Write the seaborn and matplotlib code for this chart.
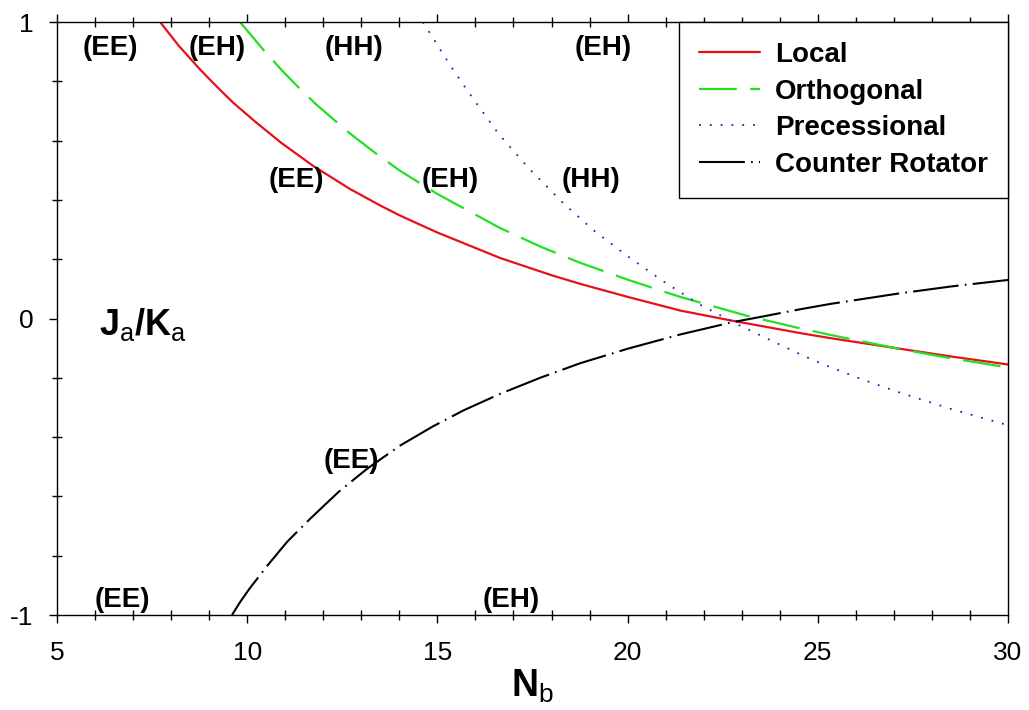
import pandas as pd
import matplotlib.pyplot as plt
import seaborn as sns
from matplotlib.ticker import MultipleLocator

# values
local_x = [7.71, 8.2, 8.76, 9.2, 9.63, 10.2, 10.9, 11.73, 12.7, 13.5, 14.02, 15.0, 16.65, 18.0, 18.75,
           20.0, 21.38, 22.69, 24.53, 25.32, 27.16, 28.5, 30.0]
local_y = [1.0, 0.92, 0.84, 0.782, 0.728, 0.665, 0.592, 0.515, 0.437, 0.381, 0.347, 0.29, 0.204, 0.146, 0.117,
           0.073, 0.027, -0.006, -0.049, -0.066, -0.102, -0.128, -0.155]

orth_x = [9.81, 10.4, 10.94, 11.4, 11.83, 12.7, 13.4, 14.02, 15.0, 16.65, 17.7, 18.75, 20.0, 21.38, 23.14,
          24.53, 25.32, 27.16, 28.5, 30.0]
orth_y = [1.0, 0.91, 0.833, 0.773, 0.72, 0.624, 0.555, 0.498, 0.42, 0.305, 0.243, 0.188, 0.131, 0.073, 0.009,
          -0.033, -0.055, -0.103, -0.134, -0.165]

prec_x = [14.62, 15.33, 15.78, 16.6, 17.4, 18.3, 19.1, 19.98, 21.0, 21.9, 22.95, 24.66, 25.19, 26.2,
          27.16, 28.5, 30.0]
prec_y = [1.0, 0.855, 0.77, 0.624, 0.507, 0.39, 0.298, 0.212, 0.12, 0.047, -0.024, -0.128, -0.157, -0.207,
          -0.25, -0.305, -0.36]

counter_x = [9.6, 9.82, 10.05, 10.52, 11.05, 11.65, 12.4, 13.15, 14.0, 14.88, 15.7, 16.65, 17.7, 18.75, 20.0,
             21.38, 22.77, 23.4, 24.53, 25.32, 27.16, 28.5, 30.0]
counter_y = [-1.0, -0.955, -0.913, -0.835, -0.753, -0.676, -0.585, -0.507, -0.43, -0.364, -0.309, -0.254, -0.2,
             -0.151, -0.102, -0.054, -0.012, 0.003, 0.031, 0.049, 0.085, 0.108, 0.13]

series_names = ['Local', 'Orthogonal', 'Precessional', 'Counter Rotator']

label_text = ['(EE)', '(EH)', '(HH)', '(EH)', '(EE)', '(EH)', '(HH)', '(EE)', '(EE)', '(EH)']
label_x = [6.39, 9.2, 12.81, 19.35, 11.28, 15.33, 19.04, 12.73, 6.73, 16.93]
label_y = [0.912, 0.912, 0.912, 0.912, 0.466, 0.466, 0.466, -0.48, -0.95, -0.95]

sns.set_style('ticks')
plt.rcParams['font.family'] = ['Liberation Sans', 'DejaVu Sans']
plt.rcParams['mathtext.fontset'] = 'custom'
plt.rcParams['mathtext.rm'] = 'Liberation Sans'
plt.rcParams['mathtext.bf'] = 'Liberation Sans:bold'
plt.rcParams['axes.unicode_minus'] = False
for k in ['text.color', 'axes.labelcolor', 'xtick.color', 'ytick.color']:
    plt.rcParams[k] = 'black'

fig = plt.figure(figsize=(10.29, 7.10), dpi=100)
ax = fig.add_axes([0.0554, 0.1338, 0.9242, 0.8352])

styles = [
    dict(color='#e8101a', linestyle='-', linewidth=1.6),
    dict(color='#22e022', linestyle=(0, (17, 6)), linewidth=1.6),
    dict(color='#2020b8', linestyle=(0, (1, 5)), linewidth=1.3),
    dict(color='black', linestyle=(0, (22, 3, 0.8, 3)), linewidth=1.5),
]
xs = [local_x, orth_x, prec_x, counter_x]
ys = [local_y, orth_y, prec_y, counter_y]

for name, x, y, st in zip(series_names, xs, ys, styles):
    d = pd.DataFrame({'Nb': x, 'J': y})
    sns.lineplot(data=d, x='Nb', y='J', sort=False, estimator=None, label=name, ax=ax, **st)

for t, x, y in zip(label_text, label_x, label_y):
    ax.text(x, y, t, fontsize=20, fontweight='bold', ha='center', va='center')

ax.text(7.26, -0.02, r'$\mathbf{J}_\mathrm{a}\mathbf{/K}_\mathrm{a}$', fontsize=26, ha='center', va='center')

ax.set_xlim(5, 30)
ax.set_ylim(-1, 1)
ax.xaxis.set_major_locator(MultipleLocator(5))
ax.xaxis.set_minor_locator(MultipleLocator(1))
ax.yaxis.set_major_locator(MultipleLocator(1))
ax.yaxis.set_minor_locator(MultipleLocator(0.2))
ax.set_yticks([-1, 0, 1])
ax.set_yticklabels(['-1', '0', '1'])

ax.tick_params(axis='x', which='major', direction='out', length=6, width=1, labelsize=19, pad=13, top=True)
ax.tick_params(axis='x', which='minor', direction='inout', length=7, width=1, top=True)
ax.tick_params(axis='y', which='major', direction='out', length=6, width=1, labelsize=19, pad=11, right=False)
ax.tick_params(axis='y', which='minor', direction='inout', length=7, width=1, right=False)
for s in ax.spines.values():
    s.set_visible(True)
    s.set_color('black')
    s.set_linewidth(1.0)

ax.set_xlabel(r'$\mathbf{N}_\mathrm{b}$', fontsize=27, labelpad=2)
ax.set_ylabel('')

leg = ax.legend(loc='upper right', borderaxespad=0, fancybox=False, framealpha=1,
                edgecolor='black', prop={'weight': 'bold', 'size': 20},
                handlelength=2.2, handletextpad=0.55, borderpad=0.72, labelspacing=0.38)
leg.get_frame().set_linewidth(1.0)

plt.savefig('out.png', dpi=100)
